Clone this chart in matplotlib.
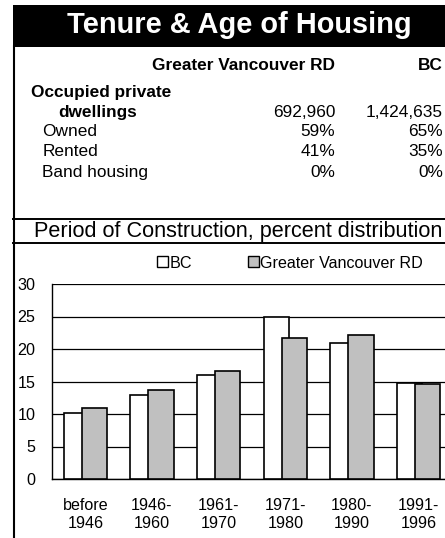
import matplotlib
matplotlib.use("Agg")
import matplotlib.pyplot as plt
from matplotlib.patches import Rectangle, Patch
from matplotlib.lines import Line2D

plt.rcParams['font.family'] = ['Liberation Sans', 'DejaVu Sans']

# ---- data ----
title = "Tenure & Age of Housing"
col_headers = ["Greater Vancouver RD", "BC"]
dwellings = ["692,960", "1,424,635"]
row_labels = ["Owned", "Rented", "Band housing"]
gv_pct = ["59%", "41%", "0%"]
bc_pct = ["65%", "35%", "0%"]

chart_title = "Period of Construction, percent distribution"
periods = ["before\n1946", "1946-\n1960", "1961-\n1970", "1971-\n1980", "1980-\n1990", "1991-\n1996"]
bc_values = [10.1, 12.9, 16.0, 25.0, 21.0, 14.7]
gv_values = [10.9, 13.7, 16.6, 21.7, 22.1, 14.6]
series_names = ["BC", "Greater Vancouver RD"]

W, H = 445, 538
fig = plt.figure(figsize=(W / 100, H / 100), dpi=100)

def P(x, y):
    return (x / W, 1 - y / H)

# title band
fig.patches.append(Rectangle(P(12.5, 46.5), (W - 12.5) / W, 41.5 / H, transform=fig.transFigure,
                             facecolor='black', edgecolor='none'))
fig.text(*P(239, 33), title, color='white', fontsize=20.9, fontweight='bold',
         ha='center', va='baseline')

# left border & separators
fig.add_artist(Line2D([13.5 / W, 13.5 / W], [1 - 46 / H, 0], transform=fig.transFigure,
                      color='black', lw=1.5))
for yy in (219, 243.5):
    fig.add_artist(Line2D([13 / W, 1], [1 - yy / H, 1 - yy / H], transform=fig.transFigure,
                          color='black', lw=1.4))

fs = 12.4
fig.text(*P(335, 70), col_headers[0], fontsize=fs, fontweight='bold', ha='right', va='baseline')
fig.text(*P(443, 70), col_headers[1], fontsize=fs, fontweight='bold', ha='right', va='baseline')
fig.text(*P(31, 97), "Occupied private", fontsize=fs, fontweight='bold', ha='left', va='baseline')
fig.text(*P(58, 117), "dwellings", fontsize=fs, fontweight='bold', ha='left', va='baseline')
fig.text(*P(335, 117), dwellings[0], fontsize=fs, ha='right', va='baseline')
fig.text(*P(443, 117), dwellings[1], fontsize=fs, ha='right', va='baseline')
for i, (lab, g, b) in enumerate(zip(row_labels, gv_pct, bc_pct)):
    yb = [136.5, 155.5, 177][i]
    fig.text(*P(42.5, yb), lab, fontsize=fs, ha='left', va='baseline')
    fig.text(*P(335, yb), g, fontsize=fs, ha='right', va='baseline')
    fig.text(*P(443, yb), b, fontsize=fs, ha='right', va='baseline')

fig.text(*P(238, 237.5), chart_title, fontsize=15.6, ha='center', va='baseline')

# chart
ax = fig.add_axes([52 / W, 1 - 479 / H, 400 / W, 195 / H])
n = len(periods)
x = list(range(n))
bw = 0.38
off = 0.137
ax.bar([i - off for i in x], bc_values, width=bw, color='white', edgecolor='black', lw=1.2, zorder=3)
ax.bar([i + off for i in x], gv_values, width=bw, color='#c0c0c0', edgecolor='black', lw=1.2, zorder=4)
ax.set_xlim(-0.5, n - 0.5)
ax.set_ylim(0, 30)
ax.set_yticks(range(0, 31, 5))
ax.yaxis.grid(True, color='black', lw=0.9, zorder=0)
ax.set_axisbelow(True)
ax.set_xticks(x)
ax.set_xticklabels(periods, fontsize=11.6, linespacing=1.25)
ax.tick_params(axis='y', length=0, pad=12, labelsize=11.6)
ax.tick_params(axis='x', length=0, pad=14)
for s in ('top', 'right'):
    ax.spines[s].set_visible(False)
ax.spines['left'].set_linewidth(1.0)
ax.spines['bottom'].set_linewidth(1.0)

handles = [Patch(facecolor='white', edgecolor='black', lw=1.0),
           Patch(facecolor='#c0c0c0', edgecolor='black', lw=1.0)]
fig.legend(handles, series_names, loc='center', bbox_to_anchor=P(290, 263), ncol=2,
           frameon=False, fontsize=11.6, handlelength=0.65, handleheight=0.65,
           handletextpad=0.1, columnspacing=3.5, borderpad=0)

fig.savefig("out.png", dpi=100)
